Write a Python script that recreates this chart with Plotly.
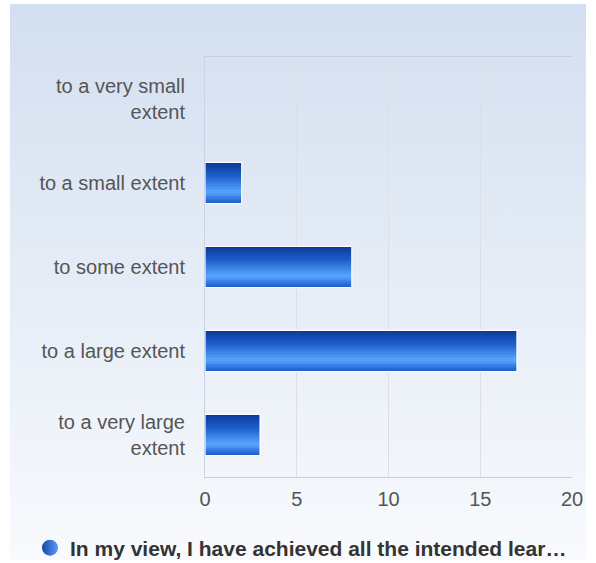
import base64
import plotly.graph_objects as go

# ---- data ----
categories = ["to a very large<br>extent", "to a large extent", "to some extent",
              "to a small extent", "to a very small<br>extent"]
values = [3, 17, 8, 2, 0]
series_name = "In my view, I have achieved all the intended lear…"
x_ticks = [0, 5, 10, 15, 20]

W, H = 596, 563
L, R, T, B = 205, 24, 57, 86
pw, ph = W - L - R, H - T - B

fig = go.Figure()

# bar gradient (top -> bottom) done with thin slices of each bar
bar_w = 0.49
stops = [(0.0, (11, 56, 150)), (0.35, (30, 95, 205)), (0.72, (88, 166, 252)), (0.85, (60, 130, 235)), (1.0, (28, 90, 200))]

def col(t):
    for (t0, c0), (t1, c1) in zip(stops, stops[1:]):
        if t0 <= t <= t1:
            f = (t - t0) / (t1 - t0) if t1 > t0 else 0
            return "rgb(%d,%d,%d)" % tuple(round(a + (b - a) * f) for a, b in zip(c0, c1))
    return "rgb(%d,%d,%d)" % stops[-1][1]

N = 28
sw = bar_w / N
for i in range(N):
    t = (i + 0.5) / N
    fig.add_trace(go.Bar(
        x=values, y=categories, orientation="h",
        width=sw * 1.15, offset=bar_w / 2 - (i + 1) * sw,
        marker=dict(color=col(t), line=dict(width=0)),
        showlegend=False, hoverinfo="skip"))

# white outline (none for empty bars)
fig.add_trace(go.Bar(
    x=values, y=categories, orientation="h", width=bar_w, offset=-bar_w / 2,
    marker=dict(color="rgba(0,0,0,0)",
                line=dict(color="white", width=[1.2 if v > 0 else 0 for v in values])),
    showlegend=False, hoverinfo="skip"))

# legend entry
fig.add_trace(go.Scatter(
    x=[None], y=[None], mode="markers", name=series_name,
    marker=dict(symbol="circle", size=18, color="#1a45a8",
                gradient=dict(type="horizontal", color="#5a9cf5"))))

# background gradient as an svg image
svg = ('<svg xmlns="http://www.w3.org/2000/svg" width="100" height="100" preserveAspectRatio="none">'
       '<defs><linearGradient id="g" x1="0" y1="0" x2="0" y2="1">'
       '<stop offset="0" stop-color="#d3dff0"/><stop offset="1" stop-color="#f8fafd"/>'
       '</linearGradient></defs><rect width="100" height="100" fill="url(#g)"/></svg>')
src = "data:image/svg+xml;base64," + base64.b64encode(svg.encode()).decode()

def px(xp):
    return (xp - L) / pw

def py(yp):
    return (H - B - yp) / ph

fig.add_layout_image(dict(source=src, xref="paper", yref="paper",
                          x=px(10), y=py(4), sizex=px(586) - px(10), sizey=py(4) - py(560),
                          xanchor="left", yanchor="top", sizing="stretch", layer="below"))

fig.update_layout(
    width=W, height=H,
    margin=dict(l=L, r=R, t=T, b=B, pad=0),
    paper_bgcolor="white", plot_bgcolor="rgba(0,0,0,0)",
    barmode="overlay", bargap=0,
    font=dict(family="Liberation Sans, Arial, sans-serif", size=20, color="#555555"),
    showlegend=True,
    legend=dict(orientation="h", xref="container", yref="container",
                x=301 / W, y=1 - 548 / H, xanchor="center", yanchor="middle",
                font=dict(size=21, color="#333333", family="Liberation Sans, Arial, sans-serif", weight="bold"),
                bgcolor="rgba(0,0,0,0)", itemwidth=30),
    xaxis=dict(range=[0, 20], tickvals=x_ticks, ticktext=[str(v) for v in x_ticks],
               showgrid=True, gridcolor="#dcdfe4", gridwidth=1, zeroline=False,
               showline=True, linecolor="#c9ced6", linewidth=1, mirror=True,
               ticks="", ticklabelstandoff=4, fixedrange=True),
    yaxis=dict(type="category", categoryorder="array", categoryarray=categories,
               range=[-0.5, 4.5], showgrid=False, zeroline=False,
               showline=True, linecolor="#c8d3e6", linewidth=1,
               ticks="", ticklabelstandoff=15, fixedrange=True),
)

fig.write_html("out.html", config={"displayModeBar": False, "staticPlot": True},
               post_script="document.body.style.margin='0';document.body.style.overflow='hidden';")
